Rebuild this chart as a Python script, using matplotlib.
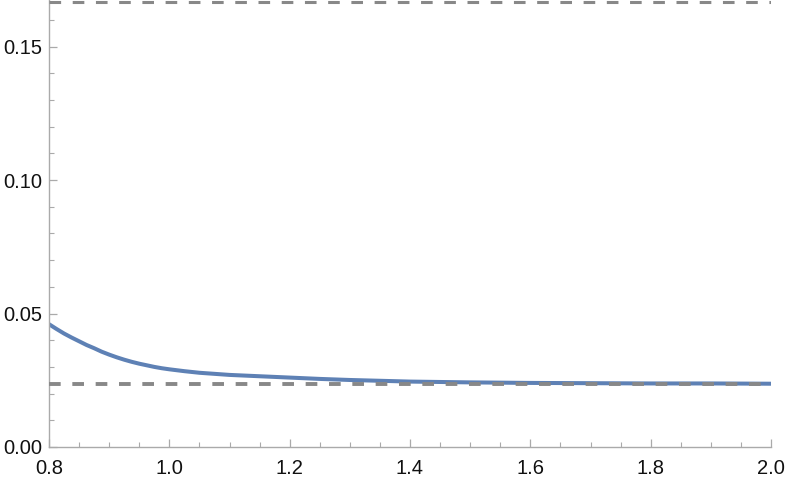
import matplotlib
matplotlib.use("Agg")
import matplotlib.pyplot as plt
import numpy as np

# Data
x_vals = [0.80, 0.8125, 0.825, 0.8375, 0.85, 0.8625, 0.875, 0.8875, 0.90, 0.9125,
          0.925, 0.9375, 0.95, 0.9625, 0.975, 0.9875, 1.00, 1.025, 1.05, 1.075,
          1.10, 1.15, 1.20, 1.25, 1.30, 1.40, 1.50, 1.60, 1.70, 1.80, 1.90, 2.00]
y_vals = [0.0460, 0.0442, 0.0425, 0.0410, 0.0396, 0.0382, 0.0370, 0.0357, 0.0346,
          0.0336, 0.0327, 0.0319, 0.0312, 0.0306, 0.0300, 0.0295, 0.0291, 0.0284,
          0.0278, 0.0274, 0.0270, 0.0265, 0.0260, 0.0255, 0.0251, 0.0245, 0.0242,
          0.0240, 0.0239, 0.0238, 0.0238, 0.0237]
upper_level = 1.0 / 6.0
lower_level = 0.0237
x_ticks = [0.8, 1.0, 1.2, 1.4, 1.6, 1.8, 2.0]
x_labels = ["0.8", "1.0", "1.2", "1.4", "1.6", "1.8", "2.0"]
y_ticks = [0.00, 0.05, 0.10, 0.15]
y_labels = ["0.00", "0.05", "0.10", "0.15"]

plt.rcParams['font.family'] = ['Liberation Sans', 'DejaVu Sans']

W, H = 789, 484
fig = plt.figure(figsize=(W / 100, H / 100), dpi=100)
ax = fig.add_axes([49 / W, (H - 447) / H, 722 / W, 447 / H])

ax.plot(x_vals, y_vals, color="#5E81B5", lw=2.9, solid_capstyle="butt",
        solid_joinstyle="round", zorder=2)
ax.axhline(upper_level, color="#888888", lw=2.2, dashes=(3.8, 3.8), zorder=3)
ax.axhline(lower_level, color="#888888", lw=2.8, dashes=(3.0, 3.0), zorder=3)

ax.set_xlim(0.8, 2.0)
ax.set_ylim(0, 447 / 2670)

for s in ["top", "right"]:
    ax.spines[s].set_visible(False)
for s in ["left", "bottom"]:
    ax.spines[s].set_color("#aaaaaa")
    ax.spines[s].set_linewidth(1.0)

ax.set_xticks(x_ticks)
ax.set_xticklabels(x_labels)
ax.set_yticks(y_ticks)
ax.set_yticklabels(y_labels)
ax.set_xticks(np.arange(0.8, 2.001, 0.05), minor=True)
ax.set_yticks(np.arange(0.0, 0.1671, 0.01), minor=True)

ax.tick_params(which="major", direction="in", length=6, width=0.9, color="#aaaaaa",
               labelsize=14.5, labelcolor="#111111")
ax.tick_params(which="minor", direction="in", length=3.5, width=0.8, color="#aaaaaa")
ax.tick_params(axis="x", which="major", pad=9)
ax.tick_params(axis="y", which="major", pad=5)

fig.savefig("out.png", dpi=100)
